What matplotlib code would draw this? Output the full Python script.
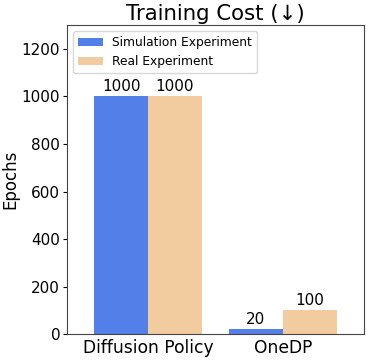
import numpy as np
import matplotlib
matplotlib.use("Agg")
import matplotlib.pyplot as plt

methods = ["Diffusion Policy", "OneDP"]
sim_epochs = [1000, 20]
real_epochs = [1000, 100]


def main():
    fig, ax = plt.subplots(figsize=(3.69, 3.6), dpi=100)
    x = np.arange(len(methods))
    w = 0.4
    b1 = ax.bar(x - w / 2, sim_epochs, w, color="#5380e8", label="Simulation Experiment")
    b2 = ax.bar(x + w / 2, real_epochs, w, color="#f2cc9e", label="Real Experiment")
    ax.bar_label(b1, fontsize=11, padding=2)
    ax.bar_label(b2, fontsize=11, padding=2)

    ax.set_xticks(x)
    ax.set_xticklabels(methods, fontsize=12.3)
    ax.tick_params(axis="y", labelsize=11, length=3, pad=2)
    ax.tick_params(axis="x", length=0)
    ax.set_xlim(-0.6, 1.6)
    ax.set_ylim(0, 1300)
    ax.set_yticks([0, 200, 400, 600, 800, 1000, 1200])
    ax.set_ylabel("Epochs", fontsize=12, labelpad=2)
    ax.set_title("Training Cost (↓)", fontsize=15.3, pad=4)
    ax.legend(loc="upper left", fontsize=8.8)
    for s in ax.spines.values():
        s.set_color("#444444")

    plt.subplots_adjust(left=0.182, right=0.986, top=0.93, bottom=0.072)
    plt.savefig("out.png")


if __name__ == '__main__':
    main()
